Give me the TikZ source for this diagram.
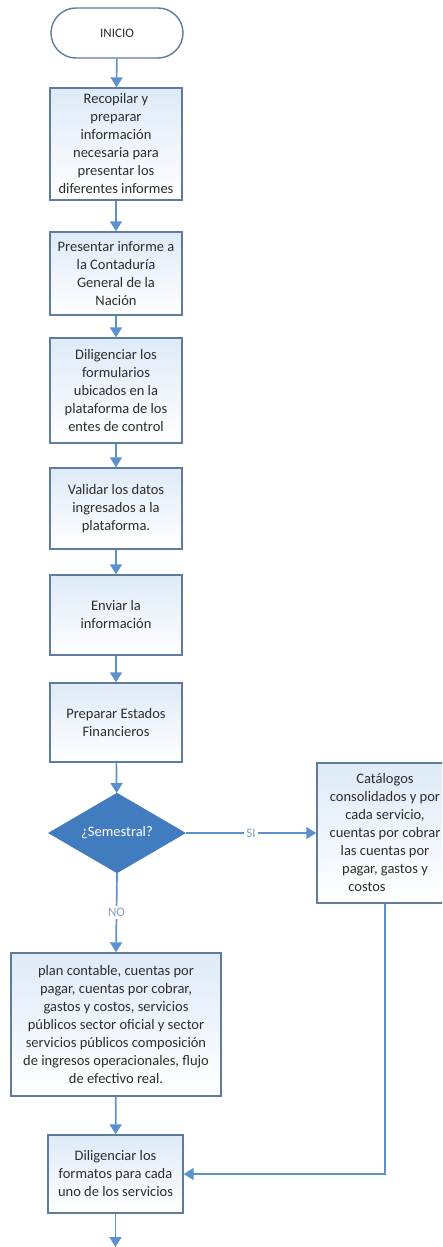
\documentclass[tikz,border=0pt]{standalone}
\usepackage{fontspec}
\setmainfont{Carlito}
\usetikzlibrary{shapes.geometric,arrows.meta}
\definecolor{boxline}{RGB}{96,124,156}
\definecolor{arrowc}{RGB}{91,146,206}
\definecolor{diafill}{RGB}{64,124,190}
\definecolor{boxtop}{RGB}{222,234,248}
\definecolor{txt}{RGB}{45,45,45}
\definecolor{lbl}{RGB}{130,160,195}
\tikzset{
  x=1pt, y=-1pt,
  procbox/.style={draw=boxline, line width=1.4pt, top color=boxtop, bottom color=white,
    align=center, inner sep=2pt, font=\fontsize{14.5}{18}\selectfont, text=txt},
  term/.style={draw=boxline, line width=1.4pt, fill=white, rounded corners=25pt,
    minimum width=132pt, minimum height=50pt, font=\fontsize{13}{16}\selectfont, text=txt},
  decis/.style={diamond, aspect=1.7, fill=diafill, draw=diafill, inner sep=0pt,
    minimum width=137pt, minimum height=80pt, text=white, font=\fontsize{14.5}{18}\selectfont},
  flow/.style={draw=arrowc, line width=1.7pt, -{Triangle[width=12pt,length=10pt]}},
  lab/.style={fill=white, text=lbl, inner sep=2pt, font=\fontsize{13}{15}\selectfont}
}
\begin{document}
\begin{tikzpicture}
\useasboundingbox (0,0) rectangle (442,1247);
\fill[white] (0,0) rectangle (442,1247);
\clip (0,0) rectangle (442,1247);

\node[term] (ini) at (117,33) {INICIO};
\node[procbox, minimum width=132pt, minimum height=112pt] (b1) at (116,144)
  {Recopilar y\\preparar\\información\\necesaria para\\presentar los\\diferentes informes};
\node[procbox, minimum width=132pt, minimum height=83pt] (b2) at (116,273.5)
  {Presentar informe a\\la Contaduría\\General de la\\Nación};
\node[procbox, minimum width=132pt, minimum height=105pt] (b3) at (116,390.5)
  {Diligenciar los\\formularios\\ubicados en la\\plataforma de los\\entes de control};
\node[procbox, minimum width=132pt, minimum height=81pt] (b4) at (116,508.5)
  {Validar los datos\\ingresados a la\\plataforma.};
\node[procbox, minimum width=132pt, minimum height=80pt] (b5) at (116,615)
  {Enviar la\\información};
\node[procbox, minimum width=132pt, minimum height=79pt] (b6) at (116,722.5)
  {Preparar Estados\\Financieros};
\node[decis] (dec) at (117,833) {¿Semestral?};
\node[procbox, minimum width=136pt, minimum height=140pt] (cat) at (385,833)
  {Catálogos\\consolidados y por\\cada servicio,\\cuentas por cobrar\\las cuentas por\\pagar, gastos y\\costos\hspace*{36pt}};
\node[procbox, minimum width=210pt, minimum height=143pt] (b7) at (116,1024.5)
  {plan contable, cuentas por\\pagar, cuentas por cobrar,\\gastos y costos,  servicios\\públicos sector oficial y sector\\servicios públicos composición\\de ingresos operacionales, flujo\\de efectivo real.};
\node[procbox, minimum width=135pt, minimum height=78pt] (b8) at (115.5,1174)
  {Diligenciar los\\formatos para cada\\uno de los servicios};
\coordinate (fin) at (115.5,1247);

\draw[flow] (ini) -- (b1);
\draw[flow] (b1) -- (b2);
\draw[flow] (b2) -- (b3);
\draw[flow] (b3) -- (b4);
\draw[flow] (b4) -- (b5);
\draw[flow] (b5) -- (b6);
\draw[flow] (b6) -- (dec);
\draw[flow] (dec.east) -- node[lab] {SI} (cat.west);
\draw[flow] (dec.south) -- node[lab] {NO} (b7.north);
\draw[flow] (b7) -- (b8);
\draw[flow] (cat.south) |- (b8.east);
\draw[flow] (b8.south) -- (fin);
\end{tikzpicture}
\end{document}
